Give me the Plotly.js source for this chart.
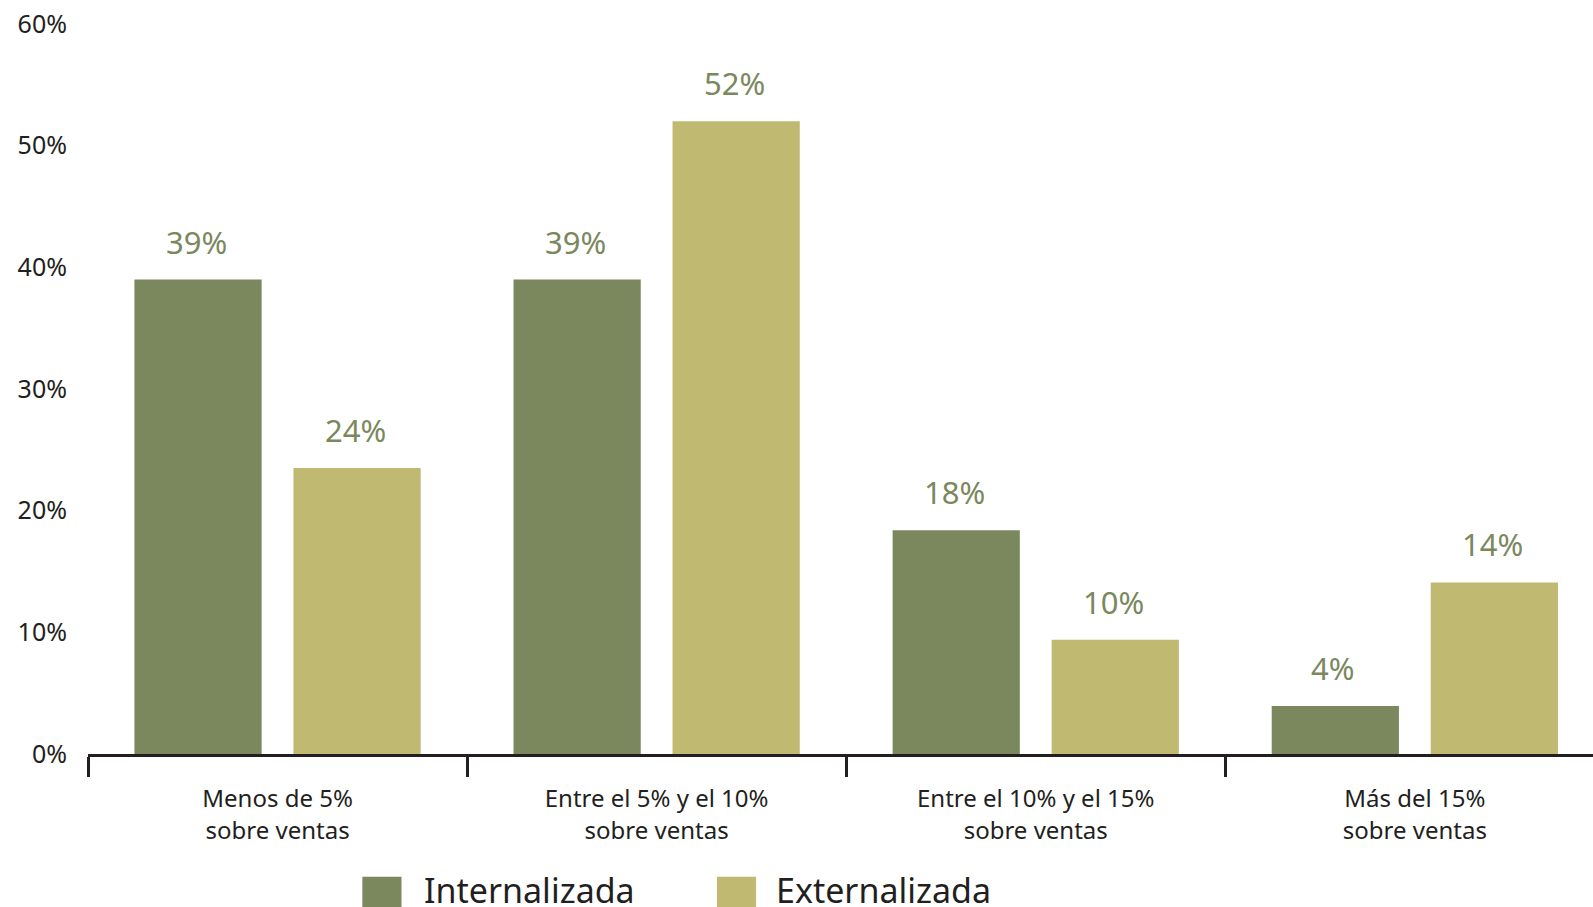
<!DOCTYPE html>
<html>
<head>
<meta charset="utf-8">
<script src="https://cdn.plot.ly/plotly-3.0.1.min.js"></script>
<style>html,body{margin:0;padding:0;background:#fff;}#chart{width:1593px;height:907px;}</style>
</head>
<body>
<div id="chart"></div>
<script>
const categories = ["Menos de 5%<br>sobre ventas", "Entre el 5% y el 10%<br>sobre ventas", "Entre el 10% y el 15%<br>sobre ventas", "Más del 15%<br>sobre ventas"];
const seriesNames = ["Internalizada", "Externalizada"];
const internalizada = [39, 39, 18.4, 3.95];
const externalizada = [23.5, 52, 9.4, 14.1];
const internalizadaLabels = ["39%", "39%", "18%", "4%"];
const externalizadaLabels = ["24%", "52%", "10%", "14%"];
const yTickVals = [0, 10, 20, 30, 40, 50, 60];
const yTickText = ["0%", "10%", "20%", "30%", "40%", "50%", "60%"];

const colors = ["#7b885e", "#c0b972"];
const FONT = "Noto Sans, sans-serif";
const TXT = "#231f20";

const traces = [
  {type: "bar", name: seriesNames[0], x: categories, y: internalizada, marker: {color: colors[0]}, hoverinfo: "skip"},
  {type: "bar", name: seriesNames[1], x: categories, y: externalizada, marker: {color: colors[1]}, hoverinfo: "skip"}
];

const annotations = [];
const shift = 79.5;
[[internalizada, internalizadaLabels, -shift], [externalizada, externalizadaLabels, shift]].forEach(([vals, labs, xs]) => {
  vals.forEach((v, i) => {
    annotations.push({x: categories[i], y: v, xref: "x", yref: "y", text: labs[i], showarrow: false,
      xanchor: "center", yanchor: "bottom", xshift: xs - 2, yshift: 15,
      font: {family: FONT, size: 31, color: colors[0]}});
  });
});

// custom legend (large squares)
const legendItems = [{x0: 0.1823, text: 0.222}, {x0: 0.4179, text: 0.456}];
const shapes = [];
legendItems.forEach((it, k) => {
  shapes.push({type: "rect", xref: "paper", yref: "paper", x0: it.x0, x1: it.x0 + 0.026, y0: -0.168, y1: -0.225,
    fillcolor: colors[k], line: {width: 0}});
  annotations.push({xref: "paper", yref: "paper", x: it.text, y: -0.152, xanchor: "left", yanchor: "top",
    text: seriesNames[k], showarrow: false, font: {family: FONT, size: 34, color: TXT}});
});

const layout = {
  width: 1593, height: 907,
  paper_bgcolor: "#fff", plot_bgcolor: "#fff",
  margin: {l: 88, r: 0, t: 24, b: 153, autoexpand: false},
  barmode: "group", bargap: 0.161, bargroupgap: 0.2,
  showlegend: false,
  font: {family: FONT, color: TXT},
  xaxis: {type: "category", range: [-0.5, 3.47], showline: true, linecolor: TXT, linewidth: 2.5,
    ticks: "outside", tickson: "boundaries", ticklen: 20, tickwidth: 3, tickcolor: TXT,
    ticklabelstandoff: 22,
    showgrid: false, zeroline: false, tickfont: {family: FONT, size: 24, color: TXT}, fixedrange: true},
  yaxis: {range: [0, 60], tickvals: yTickVals, ticktext: yTickText, showgrid: false, zeroline: false,
    showline: false, ticks: "", ticklabelstandoff: 20, tickfont: {family: FONT, size: 25, color: TXT}, fixedrange: true},
  annotations: annotations,
  shapes: shapes
};

Plotly.newPlot("chart", traces, layout, {displayModeBar: false, staticPlot: true});
</script>
</body>
</html>
